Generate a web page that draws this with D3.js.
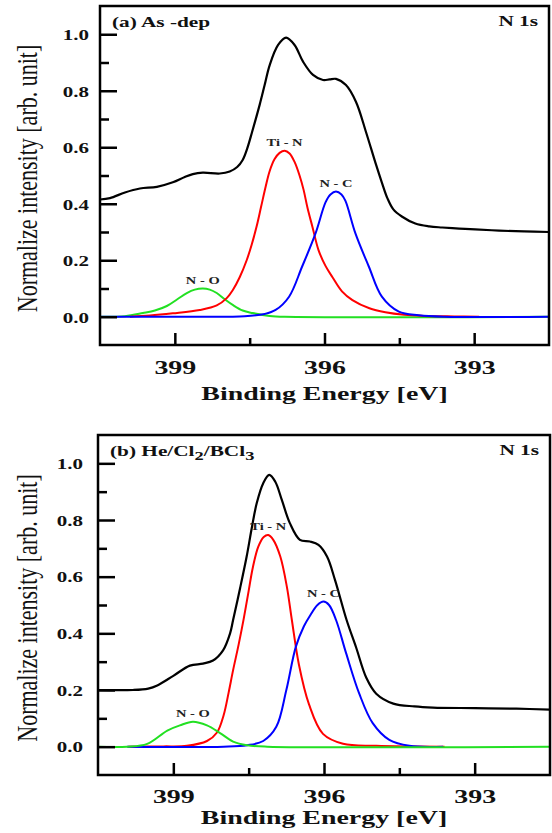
<!DOCTYPE html>
<html>
<head>
<meta charset="utf-8">
<script src="https://cdn.jsdelivr.net/npm/d3@7"></script>
<style>
  body { margin: 0; background: #fff; }
  svg { display: block; }
</style>
</head>
<body>
<div id="chart"></div>
<script>
// N 1s spectra: [binding energy (eV), normalized intensity]
var asDepTotal = [[400.5,0.415],[400.3,0.42],[400.0,0.44],[399.7,0.454],[399.36,0.46],[399.04,0.476],[398.8,0.495],[398.64,0.505],[398.44,0.51],[398.1,0.507],[397.9,0.514],[397.75,0.53],[397.64,0.555],[397.55,0.595],[397.45,0.655],[397.3,0.75],[397.2,0.82],[397.1,0.89],[396.93,0.962],[396.77,0.988],[396.6,0.962],[396.43,0.903],[396.23,0.856],[396.03,0.838],[395.9,0.84],[395.77,0.842],[395.57,0.82],[395.37,0.761],[395.17,0.655],[394.97,0.54],[394.85,0.475],[394.74,0.42],[394.62,0.38],[394.45,0.355],[394.18,0.33],[393.9,0.32],[393.64,0.316],[393.3,0.312],[392.98,0.309],[392.5,0.305],[392.0,0.302],[391.5,0.3]];
var asDepTiN = [[399.9,0],[399.5,0.004],[399.04,0.012],[398.5,0.024],[398.16,0.04],[397.96,0.066],[397.84,0.094],[397.7,0.14],[397.56,0.2],[397.46,0.255],[397.36,0.32],[397.27,0.39],[397.18,0.46],[397.1,0.515],[397.0,0.558],[396.9,0.58],[396.8,0.588],[396.7,0.578],[396.6,0.548],[396.5,0.5],[396.42,0.45],[396.34,0.385],[396.24,0.317],[396.12,0.236],[395.98,0.18],[395.84,0.14],[395.65,0.09],[395.44,0.059],[395.1,0.03],[394.78,0.016],[394.4,0.007],[394.0,0.003],[393.4,0.001],[392.9,0]];
var asDepNC = [[400.5,0],[398.5,0],[397.6,0.002],[397.2,0.01],[396.98,0.024],[396.71,0.071],[396.45,0.177],[396.18,0.295],[395.98,0.405],[395.88,0.433],[395.77,0.443],[395.66,0.433],[395.58,0.41],[395.38,0.295],[395.11,0.177],[394.85,0.071],[394.51,0.018],[394.11,0.005],[393.6,0],[391.5,0]];
var asDepNO = [[400.5,0],[400.0,0.002],[399.64,0.013],[399.4,0.022],[399.16,0.038],[398.95,0.062],[398.76,0.084],[398.6,0.096],[398.44,0.1],[398.3,0.096],[398.16,0.084],[398.0,0.062],[397.84,0.042],[397.64,0.022],[397.44,0.013],[397.1,0.003],[396.8,0],[391.5,0]];

var heTotal = [[400.5,0.2],[399.8,0.2],[399.5,0.205],[399.32,0.216],[399.0,0.25],[398.67,0.286],[398.41,0.293],[398.21,0.304],[398.01,0.34],[397.87,0.4],[397.81,0.447],[397.67,0.56],[397.54,0.671],[397.44,0.77],[397.34,0.859],[397.21,0.93],[397.09,0.959],[396.97,0.935],[396.84,0.871],[396.68,0.789],[396.48,0.73],[396.28,0.724],[396.11,0.712],[395.94,0.671],[395.78,0.588],[395.55,0.447],[395.36,0.35],[395.16,0.244],[394.96,0.187],[394.62,0.152],[394.2,0.142],[393.83,0.138],[393.0,0.136],[392.17,0.134],[391.5,0.131]];
var heTiN = [[399.9,0],[399.2,0.001],[398.73,0.003],[398.33,0.02],[398.13,0.05],[398.0,0.11],[397.9,0.19],[397.81,0.27],[397.7,0.36],[397.6,0.45],[397.5,0.55],[397.42,0.63],[397.31,0.705],[397.2,0.74],[397.11,0.747],[397.01,0.73],[396.87,0.671],[396.74,0.565],[396.64,0.447],[396.5,0.29],[396.3,0.15],[396.02,0.045],[395.62,0.01],[394.96,0.003],[393.6,0]];
var heNC = [[399.92,0],[398.0,0],[397.53,0.005],[397.21,0.02],[396.95,0.07],[396.75,0.2],[396.56,0.353],[396.4,0.425],[396.27,0.465],[396.13,0.5],[396.01,0.512],[395.9,0.5],[395.76,0.447],[395.56,0.33],[395.3,0.188],[395.03,0.083],[394.7,0.024],[394.3,0.003],[393.63,0]];
var heNO = [[400.5,0],[399.92,0],[399.52,0.01],[399.12,0.057],[398.87,0.075],[398.61,0.088],[398.33,0.075],[398.07,0.048],[397.81,0.018],[397.53,0.005],[397.13,0],[391.5,0]];

var yMajor = [0, 0.2, 0.4, 0.6, 0.8, 1.0];
var yMinor = [0.1, 0.3, 0.5, 0.7, 0.9];
var xMajor = [399, 396, 393];
var xMinor = [397.5, 394.5];

var W = 552, H = 833;
var serif = "'Liberation Serif', 'Times New Roman', serif";

var svg = d3.select("#chart").append("svg")
    .attr("width", W)
    .attr("height", H);

var panels = [
    {
        left: 100, right: 549, top: 6, bottom: 345,
        yLabGap: 11, xLabOff: 29, xTitleOff: 55,
        title: [["(a) As -dep", 0]],
        series: [
            {data: asDepTotal, color: "#000", width: 2.2},
            {data: asDepNO, color: "#22e022", width: 2, name: "N - O"},
            {data: asDepTiN, color: "#ff0000", width: 2, name: "Ti - N"},
            {data: asDepNC, color: "#0000ff", width: 2, name: "N - C"}
        ]
    },
    {
        left: 98, right: 550, top: 435, bottom: 775,
        yLabGap: 15, xLabOff: 28, xTitleOff: 49,
        title: [["(b) He/Cl", 0], ["2", 4], ["/BCl", 0], ["3", 4]],
        series: [
            {data: heTotal, color: "#000", width: 2.2},
            {data: heTiN, color: "#ff0000", width: 2, name: "Ti - N"},
            {data: heNC, color: "#0000ff", width: 2, name: "N - C"},
            {data: heNO, color: "#22e022", width: 2, name: "N - O"}
        ]
    }
];

panels.forEach(drawPanel);

function drawPanel(p) {
    var x = d3.scaleLinear().domain([400.5, 391.5]).range([p.left, p.right]);
    var y = d3.scaleLinear().domain([-0.1, 1.1]).range([p.bottom, p.top]);
    var g = svg.append("g");

    // curves
    var line = d3.line()
        .x(d => x(d[0]))
        .y(d => y(d[1]))
        .curve(d3.curveCatmullRom.alpha(0.5));

    p.series.forEach(s => {
        g.append("path")
            .datum(s.data)
            .attr("fill", "none")
            .attr("stroke", s.color)
            .attr("stroke-width", s.width)
            .attr("stroke-linejoin", "round")
            .attr("d", line);
    });

    // peak names sit just above each component maximum
    p.series.filter(s => s.name).forEach(s => {
        var pk = d3.greatest(s.data, d => d[1]);
        g.append("text")
            .attr("transform", `translate(${x(pk[0])},${y(pk[1]) - 5}) scale(1.45,1)`)
            .attr("text-anchor", "middle")
            .attr("font-family", serif)
            .attr("font-weight", "bold")
            .attr("font-size", 10)
            .attr("fill", "#222")
            .text(s.name);
    });

    // y ticks (inward)
    var yAx = g.append("g")
        .attr("transform", `translate(${p.left},0)`)
        .call(d3.axisLeft(y).tickValues(yMajor).tickSize(-17).tickSizeOuter(0).tickFormat(d3.format(".1f")));
    yAx.append("g").call(d3.axisLeft(y).tickValues(yMinor).tickSize(-9).tickSizeOuter(0).tickFormat(""));
    yAx.selectAll(".domain").remove();
    yAx.selectAll("line").attr("stroke", "#000").attr("stroke-width", 2.5);
    yAx.selectAll("text")
        .attr("x", null)
        .attr("dy", "0.35em")
        .attr("transform", `translate(${-p.yLabGap},0) scale(1.4,1)`)
        .attr("font-family", serif)
        .attr("font-weight", "bold")
        .attr("font-size", 15)
        .attr("fill", "#111");

    // x ticks (inward)
    var xAx = g.append("g")
        .attr("transform", `translate(0,${p.bottom})`)
        .call(d3.axisBottom(x).tickValues(xMajor).tickSize(-12).tickSizeOuter(0).tickFormat(d3.format("d")));
    xAx.append("g").call(d3.axisBottom(x).tickValues(xMinor).tickSize(-7).tickSizeOuter(0).tickFormat(""));
    xAx.selectAll(".domain").remove();
    xAx.selectAll("line").attr("stroke", "#000").attr("stroke-width", 2.5);
    xAx.selectAll("text")
        .attr("y", null)
        .attr("dy", null)
        .attr("transform", `translate(0,${p.xLabOff}) scale(1.55,1)`)
        .attr("font-family", serif)
        .attr("font-weight", "bold")
        .attr("font-size", 18)
        .attr("fill", "#111");

    // frame
    g.append("rect")
        .attr("x", p.left)
        .attr("y", p.top)
        .attr("width", p.right - p.left)
        .attr("height", p.bottom - p.top)
        .attr("fill", "none")
        .attr("stroke", "#000")
        .attr("stroke-width", 2.5);

    // panel title
    var t = g.append("text")
        .attr("transform", `translate(${p.left + 12},${p.top + 21}) scale(1.42,1)`)
        .attr("font-family", serif)
        .attr("font-weight", "bold")
        .attr("font-size", 15)
        .attr("fill", "#111");
    var shift = 0;
    p.title.forEach(part => {
        t.append("tspan")
            .attr("dy", part[1] - shift)
            .attr("font-size", part[1] ? 13 : 15)
            .text(part[0]);
        shift = part[1];
    });

    g.append("text")
        .attr("transform", `translate(${p.right - 11},${p.top + 20}) scale(1.42,1)`)
        .attr("text-anchor", "end")
        .attr("font-family", serif)
        .attr("font-weight", "bold")
        .attr("font-size", 15)
        .attr("fill", "#111")
        .text("N 1s");

    // axis titles
    g.append("text")
        .attr("transform", `translate(${(p.left + p.right) / 2},${p.bottom + p.xTitleOff}) scale(1.55,1)`)
        .attr("text-anchor", "middle")
        .attr("font-family", serif)
        .attr("font-weight", "bold")
        .attr("font-size", 18)
        .attr("fill", "#111")
        .text("Binding Energy [eV]");

    g.append("text")
        .attr("transform", `translate(37,${(p.top + p.bottom) / 2 + 3}) scale(1.3,1) rotate(-90)`)
        .attr("text-anchor", "middle")
        .attr("font-family", serif)
        .attr("font-size", 22)
        .attr("fill", "#111")
        .text("Normalize intensity [arb. unit]");
}
</script>
</body>
</html>
